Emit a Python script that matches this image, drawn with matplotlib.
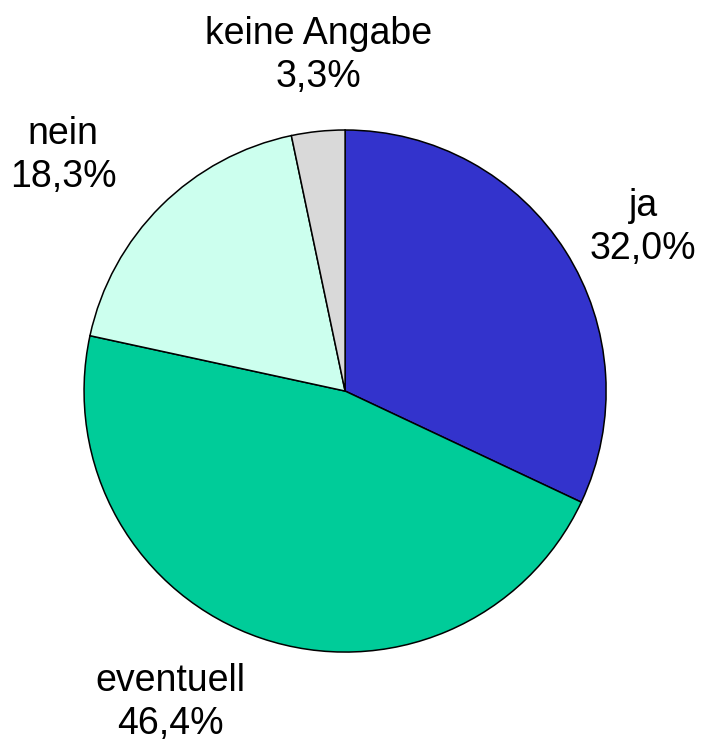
import matplotlib
matplotlib.use("Agg")
import matplotlib.pyplot as plt

plt.rcParams['font.family'] = ['Liberation Sans', 'DejaVu Sans']

labels = ['ja', 'eventuell', 'nein', 'keine Angabe']
values = [32.0, 46.4, 18.3, 3.3]
colors = ['#3333CC', '#00CC99', '#CCFFEE', '#D9D9D9']
# label positions relative to pie centre, in radius units
label_pos = [(1.142, 0.625), (-0.670, -1.195), (-1.080, 0.904), (-0.103, 1.287)]

fig = plt.figure(figsize=(7.04, 7.45), dpi=100)
ax = fig.add_axes([0, 0, 1, 1])

ax.pie(values, colors=colors, startangle=90, counterclock=False, radius=1,
       wedgeprops={'edgecolor': 'black', 'linewidth': 1.1})

for lab, val, (x, y) in zip(labels, values, label_pos):
    txt = "{}\n{:.1f}%".format(lab, val).replace('.', ',')
    ax.text(x, y, txt, ha='center', va='center', fontsize=27, linespacing=1.25)

ax.set_xlim(-1.322, 1.375)
ax.set_ylim(-1.356, 1.498)
ax.set_aspect('equal')
ax.axis('off')

fig.savefig("out.png", dpi=100)
